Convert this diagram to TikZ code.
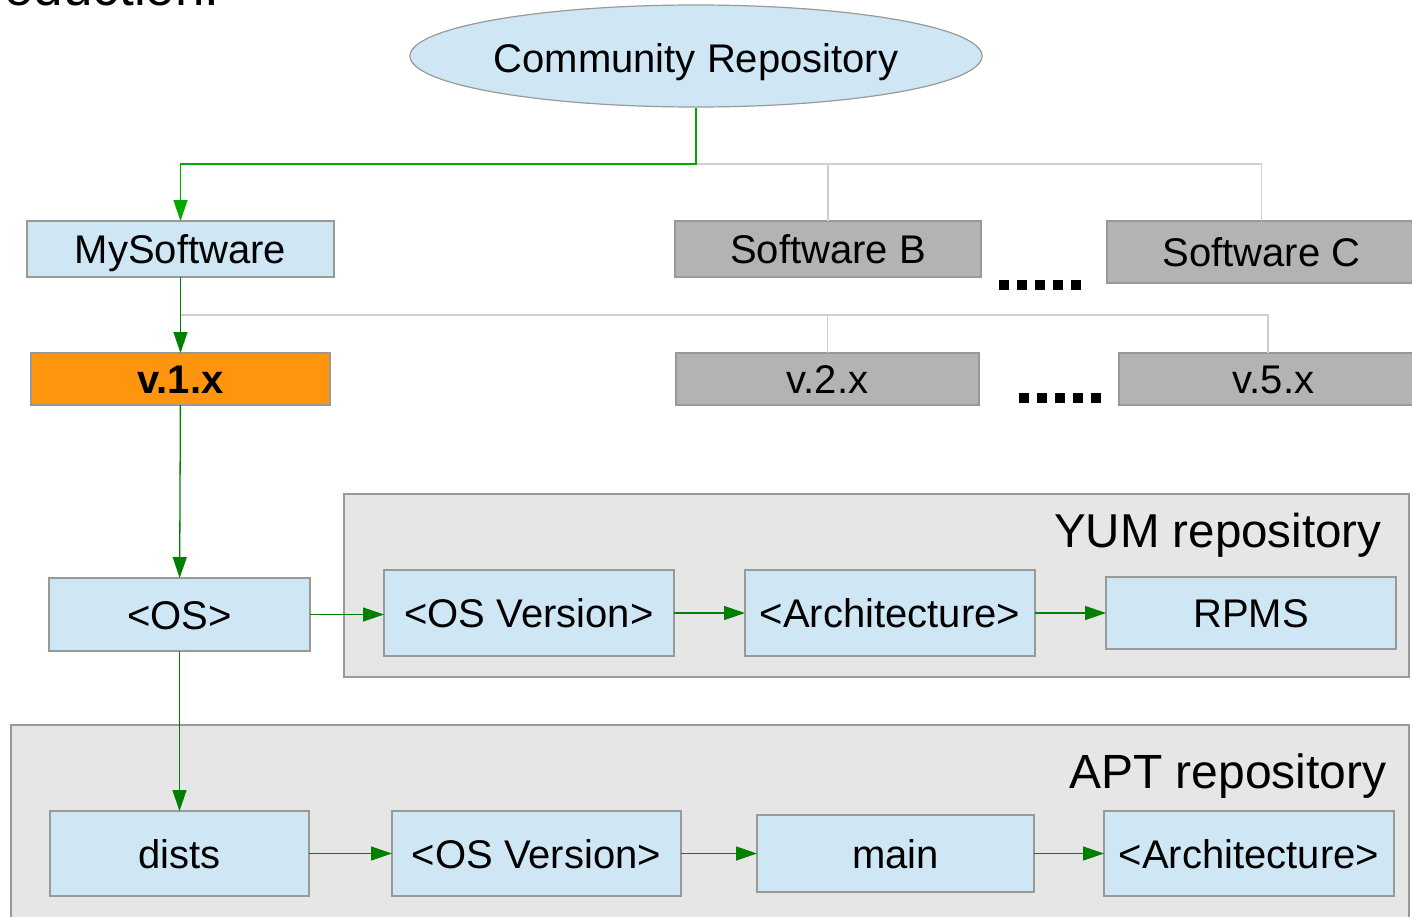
\documentclass[tikz,border=0pt]{standalone}
\usepackage{fontspec}
\setmainfont{Liberation Sans}
\usetikzlibrary{arrows.meta}
\usetikzlibrary{shapes.geometric}
\usetikzlibrary{positioning}
\definecolor{repoblue}{HTML}{CFE6F4}
\definecolor{repogray}{HTML}{B3B3B3}
\definecolor{repogroup}{HTML}{E6E6E6}
\definecolor{repoorange}{HTML}{FF950E}
\definecolor{flowgreen}{HTML}{008000}
\definecolor{topgreen}{HTML}{00A800}
\definecolor{linkgray}{HTML}{D0D0D0}
\definecolor{edgegray}{HTML}{999999}
\def\big#1{\fontsize{#1}{#1}\selectfont}

\begin{document}
\begin{tikzpicture}[x=1pt,y=-1pt,
				flow/.style={-{Triangle[length=21pt,width=14pt]},draw=flowgreen,line width=1.3pt},
				link/.style={draw=linkgray,line width=1.5pt},
				item/.style={draw=edgegray,line width=1.2pt,fill=repoblue,anchor=north west,
					inner sep=0pt,outer sep=0pt,font=\big{40},text height=29pt,text depth=0pt},
				other/.style={item,fill=repogray},
				group/.style={draw=edgegray,line width=1.5pt,fill=repogroup,anchor=north west,
					inner sep=0pt,outer sep=0pt}]
				\useasboundingbox (0,0) rectangle (1412,916);
				\clip (0,0) rectangle (1412,916);
				
				\node[anchor=base east,font=\big{53}] (title) at (223,5) {Introduction:};
				
				\node[group,minimum width=1065pt,minimum height=183pt] (yum) at (344,494) {};
				\node[group,minimum width=1398pt,minimum height=220pt] (apt) at (11,725) {};
				\node[anchor=base east,font=\big{47.5}] (yumlabel) at (1385,547) {YUM repository};
				\node[anchor=base east,font=\big{48}] (aptlabel) at (1390,788) {APT repository};
				
				\node[ellipse,draw=edgegray,line width=1.2pt,fill=repoblue,inner sep=0pt,
					minimum width=567pt,minimum height=102pt,font=\big{40},
					text height=33pt,text depth=0pt] (repo) at (696,56) {Community Repository};
				
				\node[item,minimum width=307pt,minimum height=56pt] (mysw) at (27,221) {MySoftware};
				\node[other,minimum width=306pt,minimum height=56pt] (swb) at (675,221) {Software B};
				\node[other,minimum width=309pt,minimum height=62pt] (swc) at (1107,221) {Software C};
				
				\node[item,fill=repoorange,minimum width=299pt,minimum height=52pt,
					font=\big{40}\bfseries] (v1) at (31,353) {v.1.x};
				\node[other,minimum width=303pt,minimum height=52pt] (v2) at (676,353) {v.2.x};
				\node[other,minimum width=309pt,minimum height=52pt] (v5) at (1119,353) {v.5.x};
				
				\node[item,minimum width=261pt,minimum height=73pt] (os) at (49,578) {<OS>};
				\node[item,minimum width=290pt,minimum height=86pt] (yosv) at (384,570) {<OS Version>};
				\node[item,minimum width=290pt,minimum height=86pt] (yarch) at (745,570) {<Architecture>};
				\node[item,minimum width=290pt,minimum height=72pt] (rpms) at (1106,577) {RPMS};
				
				\node[item,minimum width=259pt,minimum height=85pt] (dists) at (50,811) {dists};
				\node[item,minimum width=289pt,minimum height=85pt] (aosv) at (392,811) {<OS Version>};
				\node[item,minimum width=277pt,minimum height=77pt] (main) at (757,815) {main};
				\node[item,minimum width=290pt,minimum height=85pt] (aarch) at (1104,811) {<Architecture>};
				
				\coordinate (fork1) at (696,164);
				\coordinate (fork2) at (180.5,315);
				\coordinate (fork3) at (1268,315);
				\draw[link] (fork1) -| (swc.north);
				\draw[link] (fork1 -| swb.north) -- (swb.north);
				\draw[link] (fork2) -- (fork3) -- (fork3 |- v5.north);
				\draw[link] (fork2 -| v2.north) -- (v2.north);
				
				\foreach \k in {0,...,4} {
					\fill (999+18*\k,280) rectangle ++(10,10);
					\fill (1019+18*\k,393) rectangle ++(10,10);
				}
				
				\draw[flow,draw=topgreen] (repo.south) |- (fork1) -| (mysw.north);
				\draw[flow] (mysw) -- (v1);
				\draw[flow] (v1) -- (os);
				\draw[flow] (os) -- (dists);
				\draw[flow] (os.east) -- (os.east -| yosv.west);
				\draw[flow] (yosv) -- (yarch);
				\draw[flow] (yarch) -- (yarch -| rpms.west);
				\draw[flow] (dists) -- (aosv);
				\draw[flow] (aosv) -- (aosv -| main.west);
				\draw[flow] (main) -- (main -| aarch.west);
\end{tikzpicture}
\end{document}
